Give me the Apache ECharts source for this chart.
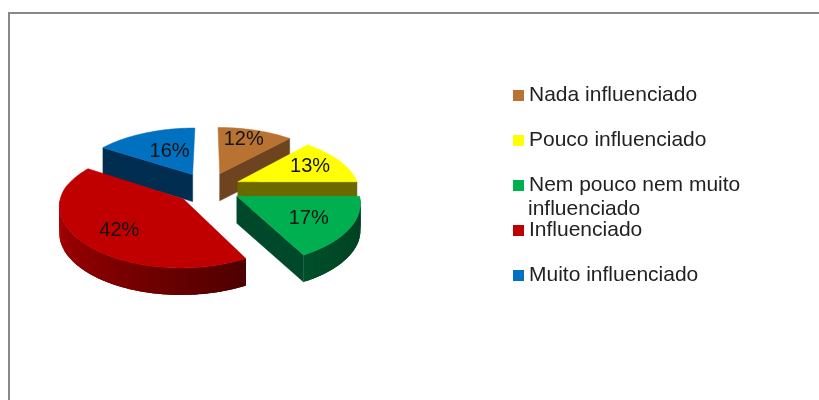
<!DOCTYPE html>
<html><head><meta charset="utf-8">
<style>html,body{margin:0;padding:0;background:#fff}#c{width:819px;height:400px}</style>
<script src="https://cdn.jsdelivr.net/npm/echarts@6/dist/echarts.min.js"></script>
</head><body><div id="c"></div>
<script>
const categories = ['Nada influenciado','Pouco influenciado','Nem pouco nem muito influenciado','Influenciado','Muito influenciado'];
const legendNames = ['Nada influenciado','Pouco influenciado','Nem pouco nem muito','Influenciado','Muito influenciado'];
const values = [12,13,17,42,16];
const topColors = ['#b87333','#ffff00','#00b050','#c00000','#0070c0'];
const cutColors = ['#6e4420','#6b6800','#00482a','#800000','#002d50'];
const wallFrom = ['#6e4420','#6b6800','#004f2b','#ae0000','#002d50'];
const wallTo = ['#6e4420','#6b6800','#003c1f','#4d0000','#002d50'];
const drawOrder = [0,4,1,3,2];
const labelShift = [[2,-7],[12,-3],[8,4],[-9,6],[6,3]];

const CX=208, CY=188, R=121, EXPLODE=33, K=0.48, DX_BACK=850, DX_FRONT=1200, DY=900, H=27;
const total = values.reduce((a,b)=>a+b,0);
const starts = []; let acc=0;
values.forEach(v=>{starts.push(acc/total*360); acc+=v;});

function proj(X,Y,z){const sx=1+Y/(Y<0?DX_BACK:DX_FRONT);return [CX+X*sx, CY+K*Y*(1+Y/DY)+z];}
function hex(c){return [1,3,5].map(i=>parseInt(c.substr(i,2),16));}
function mix(a,b,t){const p=hex(a),q=hex(b);return 'rgb('+p.map((v,i)=>Math.round(v+(q[i]-v)*t)).join(',')+')';}

function renderSlice(i){
  const a0=starts[i], a1=a0+values[i]/total*360, mid=(a0+a1)/2, rad=d=>d*Math.PI/180;
  const ox=Math.sin(rad(mid))*EXPLODE, oy=-Math.cos(rad(mid))*EXPLODE;
  const rim=(a,r)=>[ox+Math.sin(rad(a))*r, oy-Math.cos(rad(a))*r];
  const P=(a,z)=>{const q=rim(a,R);return proj(q[0],q[1],z);};
  const apex=z=>proj(ox,oy,z);
  const children=[];
  const poly=(pts,fill,stroke)=>children.push({type:'polygon',shape:{points:pts},style:stroke?{fill:fill,stroke:fill,lineWidth:0.5}:{fill:fill}});
  if(Math.sin(rad(a1))>0.001) poly([apex(0),P(a1,0),P(a1,H),apex(H)],cutColors[i],true);
  if(Math.sin(rad(a0))<-0.001) poly([apex(0),P(a0,0),P(a0,H),apex(H)],cutColors[i],true);
  const wa0=Math.max(a0,90), wa1=Math.min(a1,270);
  if(wa1>wa0){
    for(let a=wa1;a>wa0;a-=1){
      const e=Math.max(a-2.5,wa0);
      const t=i===3?Math.min(1,(270-a)/119):(a1-a)/(a1-wa0);
      poly([P(a,0),P(e,0),P(e,H),P(a,H)],mix(wallFrom[i],wallTo[i],Math.max(0,Math.min(1,t))));
    }
  }
  const top=[apex(0)];
  for(let a=a0;a<a1;a+=2) top.push(P(a,0));
  top.push(P(a1,0));
  poly(top,topColors[i],true);
  const c=rim(mid,R*0.58), lp=proj(c[0],c[1],0);
  children.push({type:'text',style:{text:values[i]+'%',x:lp[0]+labelShift[i][0],y:lp[1]+labelShift[i][1],
    align:'center',verticalAlign:'middle',font:'20px "Liberation Sans"',fill:'#141414'}});
  return {type:'group',children:children};
}

const chart=echarts.init(document.getElementById('c'),null,{renderer:'canvas'});
chart.setOption({
  animation:false,
  backgroundColor:'#ffffff',
  legend:{
    orient:'vertical',left:508,top:80,itemWidth:11,itemHeight:11,itemGap:24,icon:'rect',
    selectedMode:false,
    data:categories,
    formatter:n=>legendNames[categories.indexOf(n)],
    textStyle:{fontFamily:'Liberation Sans',fontSize:21,lineHeight:20,color:'#222222'}
  },
  graphic:[
    {type:'rect',shape:{x:9,y:13,width:1000,height:600},style:{fill:'none',stroke:'#888888',lineWidth:2},silent:true},
    {type:'text',left:528,top:199,style:{text:'influenciado',font:'21px "Liberation Sans"',fill:'#222222'},silent:true}
  ],
  series:drawOrder.map(i=>({
    type:'custom',name:categories[i],coordinateSystem:'none',silent:true,
    itemStyle:{color:topColors[i]},
    data:[values[i]],
    renderItem:()=>renderSlice(i)
  }))
});
</script></body></html>
